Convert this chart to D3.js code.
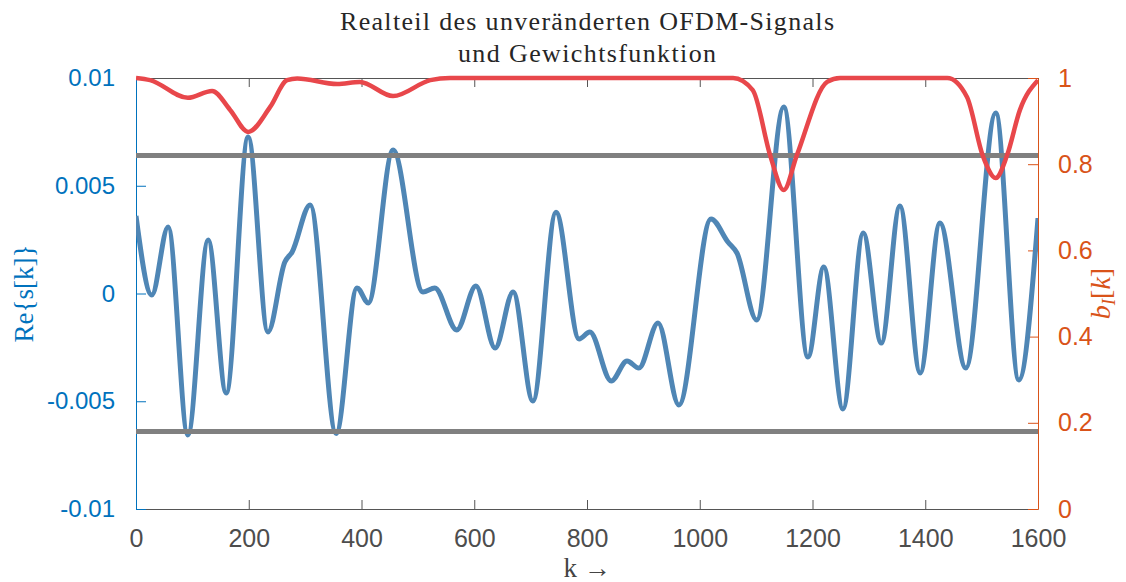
<!DOCTYPE html>
<html>
<head>
<meta charset="utf-8">
<script src="https://cdn.jsdelivr.net/npm/d3@7"></script>
<style>
  body { margin: 0; background: #fff; }
  svg { display: block; }
</style>
</head>
<body>
<script>
// Realteil des OFDM-Signals (blue, left axis) and weight function b_I[k] (red, right axis)
const sigK = [0, 28, 57, 92, 128, 160, 199, 234, 264, 277, 309, 355, 392, 412, 456, 509, 530, 569, 603, 637, 669, 704, 745, 786, 805, 843, 871, 892, 926, 963, 1020, 1050, 1066, 1101, 1149, 1192, 1220, 1254, 1290, 1322, 1355, 1391, 1426, 1472, 1525, 1566, 1600];
const sigV = [0.0036, -0.00007, 0.00309, -0.00657, 0.00248, -0.00462, 0.00726, -0.00179, 0.00146, 0.00193, 0.00411, -0.0065, 0.00026, -0.00044, 0.00666, 0.00007, 0.00026, -0.00169, 0.00035, -0.00253, 0.00007, -0.00499, 0.00377, -0.00211, -0.00179, -0.00406, -0.00313, -0.00346, -0.00137, -0.00517, 0.00346, 0.00239, 0.00188, -0.00123, 0.00865, -0.00295, 0.00123, -0.00536, 0.00281, -0.0023, 0.00406, -0.00369, 0.00327, -0.00346, 0.00838, -0.00401, 0.0035];

const wK = [0, 25, 92, 135, 167, 199, 238, 268, 286, 357, 397, 456, 522, 557, 1059, 1094, 1125, 1149, 1172, 1226, 1249, 1439, 1474, 1502, 1525, 1545, 1568, 1600];
const wV = [1.0, 0.995, 0.954, 0.97, 0.926, 0.875, 0.933, 0.995, 0.999, 0.986, 0.991, 0.958, 0.995, 1.0, 1.0, 0.972, 0.82, 0.74, 0.82, 0.991, 1.0, 1.0, 0.956, 0.82, 0.768, 0.82, 0.926, 0.995];

const threshold = 0.0064;

const xTicks = [0, 200, 400, 600, 800, 1000, 1200, 1400, 1600];
const leftTicks = [-0.01, -0.005, 0, 0.005, 0.01];
const rightTicks = [0, 0.2, 0.4, 0.6, 0.8, 1];
const rightTickLabels = ["0", "0.2", "0.4", "0.6", "0.8", "1"];

const width = 1126, height = 582;
const margin = {top: 78, right: 88, bottom: 73, left: 136};
const iw = width - margin.left - margin.right;
const ih = height - margin.top - margin.bottom;

const blueAxis = "#0072BD", orangeAxis = "#D95319";
const sansFont = "'Liberation Sans', Arial, sans-serif";
const serifFont = "'Liberation Serif', 'Times New Roman', serif";

const svg = d3.select("body").append("svg")
    .attr("width", width)
    .attr("height", height);

const x = d3.scaleLinear().domain([0, 1600]).range([margin.left, margin.left + iw]);
const yL = d3.scaleLinear().domain([-0.01, 0.01]).range([margin.top + ih, margin.top]);
const yR = d3.scaleLinear().domain([0, 1]).range([margin.top + ih, margin.top]);

// title (Computer-Modern look is wider than Times, so stretch the spacing)
const title = svg.append("text")
    .attr("text-anchor", "middle")
    .attr("font-family", serifFont)
    .attr("font-size", 26)
    .attr("fill", "#262626");
title.append("tspan").attr("x", x(800)).attr("y", 30)
    .attr("textLength", 494).attr("lengthAdjust", "spacing")
    .text("Realteil des unveränderten OFDM-Signals");
title.append("tspan").attr("x", x(800)).attr("y", 62)
    .attr("textLength", 258).attr("lengthAdjust", "spacing")
    .text("und Gewichtsfunktion");

// top box line with ticks
svg.append("g")
    .attr("transform", `translate(0,${margin.top})`)
    .call(d3.axisTop(x).tickValues(xTicks).tickSize(-9).tickFormat(""))
    .call(g => g.selectAll("line, path").attr("stroke", "#555"));

// bottom axis
svg.append("g")
    .attr("transform", `translate(0,${margin.top + ih})`)
    .call(d3.axisBottom(x).tickValues(xTicks).tickSizeInner(-9).tickSizeOuter(0).tickPadding(20).tickFormat(d => String(d)))
    .call(g => g.selectAll("line, path").attr("stroke", "#555"))
    .call(g => g.selectAll("text")
        .attr("font-family", sansFont)
        .attr("font-size", 25)
        .attr("fill", "#4d4d4d"));

// left axis
svg.append("g")
    .attr("transform", `translate(${margin.left},0)`)
    .call(d3.axisLeft(yL).tickValues(leftTicks).tickSizeInner(-10).tickSizeOuter(0).tickPadding(21).tickFormat(d => String(d)))
    .call(g => g.selectAll("line, path").attr("stroke", blueAxis))
    .call(g => g.selectAll("text")
        .attr("font-family", sansFont)
        .attr("font-size", 24)
        .attr("fill", blueAxis));

// right axis
svg.append("g")
    .attr("transform", `translate(${margin.left + iw},0)`)
    .call(d3.axisRight(yR).tickValues(rightTicks).tickSizeInner(-10).tickSizeOuter(0).tickPadding(20).tickFormat((d, i) => rightTickLabels[i]))
    .call(g => g.selectAll("line, path").attr("stroke", orangeAxis))
    .call(g => g.selectAll("text")
        .attr("font-family", sansFont)
        .attr("font-size", 25)
        .attr("fill", orangeAxis));

// axis labels
svg.append("text")
    .attr("transform", `translate(33,${yL(0)}) rotate(-90)`)
    .attr("text-anchor", "middle")
    .attr("font-family", serifFont)
    .attr("font-size", 27)
    .attr("fill", blueAxis)
    .text("Re{s[k]}");

const rl = svg.append("text")
    .attr("transform", `translate(1110,${yR(0.5)}) rotate(-90)`)
    .attr("text-anchor", "middle")
    .attr("font-family", serifFont)
    .attr("font-size", 28)
    .attr("fill", orangeAxis);
rl.append("tspan").attr("font-style", "italic").text("b");
rl.append("tspan").attr("font-style", "italic").attr("font-size", 19).attr("dy", 5).text("I");
rl.append("tspan").attr("dy", -5).text("[");
rl.append("tspan").attr("font-style", "italic").text("k");
rl.append("tspan").text("]");

svg.append("text")
    .attr("x", x(800))
    .attr("y", 577)
    .attr("text-anchor", "middle")
    .attr("font-family", serifFont)
    .attr("font-size", 27)
    .attr("fill", "#444")
    .text("k →");

// clip to plot area
svg.append("clipPath").attr("id", "plot")
  .append("rect")
    .attr("x", margin.left).attr("y", margin.top - 3)
    .attr("width", iw).attr("height", ih + 3);

const plot = svg.append("g").attr("clip-path", "url(#plot)");

const sigLine = d3.line()
    .x((d, i) => x(sigK[i]))
    .y(d => yL(d))
    .curve(d3.curveMonotoneX);

plot.append("path")
    .datum(sigV)
    .attr("fill", "none")
    .attr("stroke", "#4f86b5")
    .attr("stroke-width", 5)
    .attr("stroke-linejoin", "round")
    .attr("d", sigLine);

// threshold lines
plot.selectAll(".thr")
  .data([threshold, -threshold])
  .join("line")
    .attr("x1", margin.left).attr("x2", margin.left + iw)
    .attr("y1", d => yL(d)).attr("y2", d => yL(d))
    .attr("stroke", "#808080")
    .attr("stroke-width", 5);

const wLine = d3.line()
    .x((d, i) => x(wK[i]))
    .y(d => yR(d))
    .curve(d3.curveMonotoneX);

plot.append("path")
    .datum(wV)
    .attr("fill", "none")
    .attr("stroke", "#e8474b")
    .attr("stroke-width", 4.5)
    .attr("stroke-linejoin", "round")
    .attr("d", wLine);
</script>
</body>
</html>
